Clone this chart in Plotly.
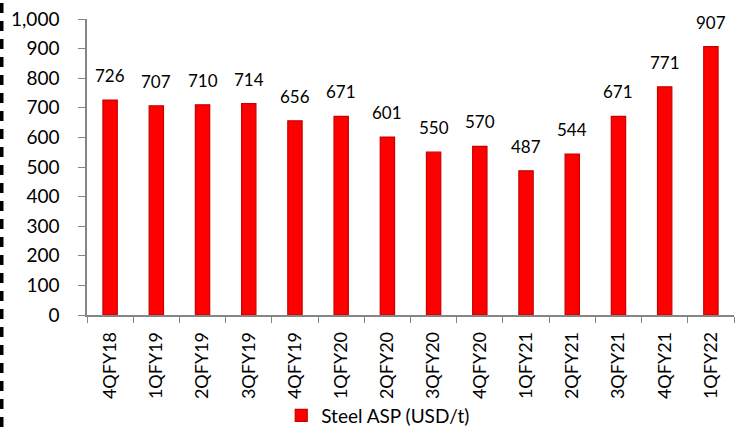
import plotly.graph_objects as go

categories = ["4QFY18", "1QFY19", "2QFY19", "3QFY19", "4QFY19", "1QFY20", "2QFY20",
              "3QFY20", "4QFY20", "1QFY21", "2QFY21", "3QFY21", "4QFY21", "1QFY22"]
steel_asp = [726, 707, 710, 714, 656, 671, 601, 550, 570, 487, 544, 671, 771, 907]
y_ticks = [0, 100, 200, 300, 400, 500, 600, 700, 800, 900, 1000]
series_name = "Steel ASP (USD/t)"

FONT = "Lato, Carlito, sans-serif"

fig = go.Figure()
fig.add_trace(go.Bar(
    x=categories, y=steel_asp, name=series_name,
    marker=dict(color="#FF0000", line=dict(color="#C80000", width=1.2)),
    width=0.31,
    showlegend=True,
))

for c, v in zip(categories, steel_asp):
    fig.add_annotation(x=c, y=v, text=f"{v:,}", showarrow=False,
                       xanchor="center", yanchor="bottom", yshift=12,
                       font=dict(family=FONT, size=17, color="#000000"))

fig.update_layout(
    width=744, height=427,
    margin=dict(l=87, r=10, t=19, b=112),
    paper_bgcolor="white", plot_bgcolor="white",
    showlegend=True,
    legend=dict(orientation="h", xref="container", yref="container",
                x=0.378, xanchor="left", y=0.027, yanchor="middle",
                bgcolor="rgba(0,0,0,0)",
                font=dict(family=FONT, size=19, color="#000000"),
                itemwidth=30),
    xaxis=dict(type="category", showline=True, linecolor="#868686", linewidth=1.5,
               ticks="outside", tickson="boundaries", ticklen=6, tickcolor="#868686",
               tickangle=-90, automargin=False, ticklabelstandoff=8,
               tickfont=dict(family=FONT, size=18, color="#000000"),
               showgrid=False),
    yaxis=dict(range=[0, 1000], tickvals=y_ticks, tickformat=",d",
               showline=True, linecolor="#868686", linewidth=1.5,
               ticks="outside", ticklen=7, tickcolor="#868686",
               automargin=False, ticklabelstandoff=15,
               tickfont=dict(family=FONT, size=19, color="#000000"),
               showgrid=False, zeroline=False),
)

# dashed border at left edge of the image
fig.add_shape(type="line", xref="paper", yref="paper",
              x0=-85.5/647, x1=-85.5/647, y0=-112/296, y1=1 + 19/296,
              line=dict(color="#000000", width=4, dash="10px,8px"))

fig.write_html("out.html", config={"displayModeBar": False},
               post_script="document.body.style.margin='0';")
